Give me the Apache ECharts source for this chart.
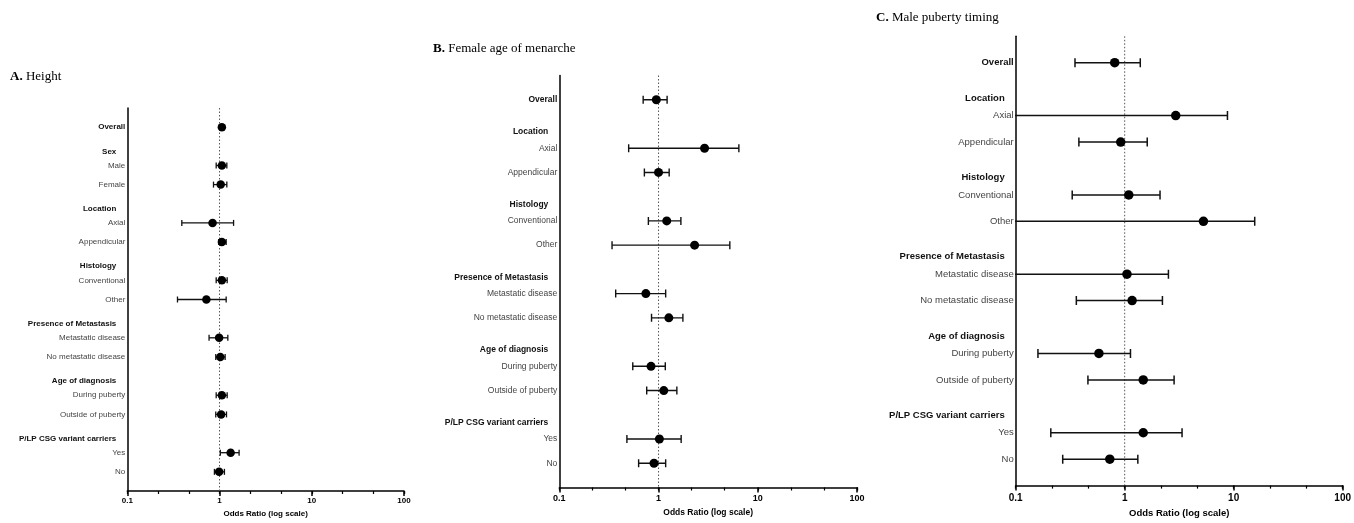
<!DOCTYPE html>
<html>
<head>
<meta charset="utf-8">
<script src="https://cdn.jsdelivr.net/npm/echarts@6/dist/echarts.min.js"></script>
<style>
  html, body { margin: 0; padding: 0; background: #fff; }
  #chart { width: 1354px; height: 523px; }
  #err { position: absolute; left: 0; top: 0; font: 10px monospace; color: red; white-space: pre; }
</style>
</head>
<body>
<div id="chart"></div>
<div id="err"></div>
<script>
// ---------- DATA ----------
const panelTitles = ['Height', 'Female age of menarche', 'Male puberty timing'];
const panelLetters = ['A.', 'B.', 'C.'];
const axisName = 'Odds Ratio (log scale)';
const tickValues = [0.1, 1, 10, 100];
const refValue = 1;

// Panel A (null odds ratio = group header row)
const rowsA = ['Overall', 'Sex', 'Male', 'Female', 'Location', 'Axial', 'Appendicular',
  'Histology', 'Conventional', 'Other', 'Presence of Metastasis', 'Metastatic disease',
  'No metastatic disease', 'Age of diagnosis', 'During puberty', 'Outside of puberty',
  'P/LP CSG variant carriers', 'Yes', 'No'];
const orA = [1.06, null, 1.06, 1.03, null, 0.84, 1.06, null, 1.06, 0.72, null, 0.99, 1.02, null, 1.06, 1.04, null, 1.32, 0.99];
const loA = [1.00, null, 0.92, 0.86, null, 0.39, 0.98, null, 0.92, 0.35, null, 0.77, 0.91, null, 0.92, 0.91, null, 1.02, 0.88];
const hiA = [1.12, null, 1.20, 1.20, null, 1.42, 1.18, null, 1.21, 1.18, null, 1.23, 1.15, null, 1.21, 1.19, null, 1.63, 1.13];

// Panels B and C share rows
const rowsBC = ['Overall', 'Location', 'Axial', 'Appendicular', 'Histology', 'Conventional', 'Other',
  'Presence of Metastasis', 'Metastatic disease', 'No metastatic disease', 'Age of diagnosis',
  'During puberty', 'Outside of puberty', 'P/LP CSG variant carriers', 'Yes', 'No'];
const orB = [0.95, null, 2.91, 1.00, null, 1.21, 2.31, null, 0.745, 1.27, null, 0.84, 1.13, null, 1.02, 0.90];
const loB = [0.70, null, 0.50, 0.72, null, 0.79, 0.34, null, 0.37, 0.85, null, 0.55, 0.76, null, 0.48, 0.63];
const hiB = [1.22, null, 6.45, 1.28, null, 1.68, 5.23, null, 1.18, 1.76, null, 1.17, 1.53, null, 1.69, 1.18];

const orC = [0.81, null, 2.94, 0.92, null, 1.09, 5.28, null, 1.05, 1.17, null, 0.58, 1.48, null, 1.48, 0.73];
const loC = [0.35, null, 0.05, 0.38, null, 0.33, 0.06, null, 0.07, 0.36, null, 0.16, 0.46, null, 0.21, 0.27];
const hiC = [1.39, null, 8.77, 1.61, null, 2.11, 15.6, null, 2.52, 2.22, null, 1.13, 2.84, null, 3.36, 1.32];

// ---------- LAYOUT ----------
const SANS = '"Liberation Sans", Arial, Helvetica, sans-serif';
const SERIF = '"Liberation Serif", "Times New Roman", serif';

const panels = [
  { rows: rowsA, or: orA, lo: loA, hi: hiA,
    grid: { left: 127.3, top: 108, width: 276.7, height: 383 },
    font: 8, tickFont: 8, headerOff: 5, dot: 8.5, cap: 6, lw: 1.3, tickMargin: 6, nameGap: 16,
    title: { left: 10, top: 70.5 } },
  { rows: rowsBC, or: orB, lo: loB, hi: hiB,
    grid: { left: 559.3, top: 75.5, width: 297.7, height: 412 },
    font: 8.5, tickFont: 9, headerOff: 8, dot: 9, cap: 8, lw: 1.4, tickMargin: 6.5, nameGap: 18,
    title: { left: 433, top: 42.5 } },
  { rows: rowsBC, or: orC, lo: loC, hi: hiC,
    grid: { left: 1015.7, top: 36.3, width: 331, height: 459.8 },
    font: 9.5, tickFont: 10, headerOff: 9, dot: 9.5, cap: 9, lw: 1.5, tickMargin: 7.5, nameGap: 19,
    title: { left: 876, top: 11 } }
];

const option = {
  animation: false,
  backgroundColor: '#fff',
  title: [], grid: [], xAxis: [], yAxis: [], series: []
};

panels.forEach((p, i) => {
  const cats = [''].concat(p.rows, [' ']);   // padding rows top & bottom
  const headerSet = new Set(p.rows.filter((r, k) => p.or[k] === null));

  option.title.push({
    text: '{b|' + panelLetters[i] + '} ' + panelTitles[i],
    left: p.title.left, top: p.title.top, padding: 0,
    textStyle: {
      fontFamily: SERIF, fontSize: 13, fontWeight: 'normal', color: '#000',
      rich: { b: { fontFamily: SERIF, fontSize: 13, fontWeight: 'bold', color: '#000' } }
    }
  });

  option.grid.push(Object.assign({ containLabel: false }, p.grid));

  // main log axis
  option.xAxis.push({
    type: 'log', logBase: 10, min: 0.1, max: 100, gridIndex: i,
    position: 'bottom',
    name: axisName, nameLocation: 'middle', nameGap: p.nameGap,
    nameTextStyle: { fontFamily: SANS, fontSize: p.font, fontWeight: 'bold', color: '#000', verticalAlign: 'top' },
    axisLine: { show: true, onZero: false, lineStyle: { color: '#000', width: 1.5 } },
    axisTick: { show: true, length: 5, lineStyle: { color: '#000', width: 1.5 } },
    axisLabel: {
      margin: p.tickMargin, fontFamily: SANS, fontSize: p.tickFont, fontWeight: 'bold', color: '#000',
      formatter: v => {
        const t = tickValues.find(tv => Math.abs(Math.log10(tv) - Math.log10(v)) < 1e-6);
        return t === undefined ? '' : String(t);
      }
    },
    splitLine: { show: false }, minorTick: { show: false }
  });
  // minor ticks: thirds of a decade (log10 space)
  option.xAxis.push({
    type: 'value', min: -1, max: 2, interval: 1 / 3, gridIndex: i,
    position: 'bottom', offset: 0,
    axisLine: { show: false, onZero: false },
    axisTick: { show: true, length: 3, lineStyle: { color: '#000', width: 1.2 } },
    axisLabel: { show: false }, splitLine: { show: false }
  });

  option.yAxis.push({
    type: 'category', data: cats, inverse: true, boundaryGap: false, gridIndex: i,
    axisLine: { show: true, onZero: false, lineStyle: { color: '#000', width: 1.5 } },
    axisTick: { show: false },
    splitLine: { show: false },
    axisLabel: {
      interval: 0, margin: 2, fontFamily: SANS, fontSize: p.font, color: '#444',
      formatter: v => {
        if (headerSet.has(v)) return '{h|' + v + '}';
        if (v === 'Overall') return '{o|' + v + '}';
        return v;
      },
      rich: {
        h: { fontFamily: SANS, fontSize: p.font, fontWeight: 'bold', color: '#111',
             padding: [2 * p.headerOff, 9, 0, 0] },
        o: { fontFamily: SANS, fontSize: p.font, fontWeight: 'bold', color: '#111' }
      }
    }
  });

  const barData = [], dotData = [];
  p.rows.forEach((r, k) => {
    if (p.or[k] === null) return;
    barData.push([p.lo[k], k + 1, p.hi[k]]);
    dotData.push([p.or[k], k + 1]);
  });

  // dotted reference line at OR = 1, spanning the full axis height
  option.series.push({
    type: 'line', xAxisIndex: 2 * i, yAxisIndex: i, silent: true,
    symbol: 'none', data: [[refValue, 0], [refValue, cats.length - 1]],
    lineStyle: { type: [1.5, 2], color: '#555', width: 1 }, z: 1
  });

  const capH = p.cap, lw = p.lw;
  option.series.push({
    type: 'custom', xAxisIndex: 2 * i, yAxisIndex: i, clip: true, silent: true,
    data: barData,
    renderItem: (params, api) => {
      const y = api.value(1);
      const a = api.coord([api.value(0), y]);
      const b = api.coord([api.value(2), y]);
      const st = { stroke: '#111', lineWidth: lw };
      return {
        type: 'group',
        children: [
          { type: 'line', shape: { x1: a[0], y1: a[1], x2: b[0], y2: b[1] }, style: st },
          { type: 'line', shape: { x1: a[0], y1: a[1] - capH / 2, x2: a[0], y2: a[1] + capH / 2 }, style: st },
          { type: 'line', shape: { x1: b[0], y1: b[1] - capH / 2, x2: b[0], y2: b[1] + capH / 2 }, style: st }
        ]
      };
    },
    z: 2
  });
  option.series.push({
    type: 'scatter', xAxisIndex: 2 * i, yAxisIndex: i, silent: true,
    symbol: 'circle', symbolSize: p.dot,
    itemStyle: { color: '#000', opacity: 1 },
    data: dotData, z: 3
  });
});

try {
  const chart = echarts.init(document.getElementById('chart'), null, { renderer: 'canvas' });
  chart.setOption(option);
} catch (e) {
  document.getElementById('err').textContent = String(e && e.stack || e).slice(0, 1500);
}
</script>
</body>
</html>
